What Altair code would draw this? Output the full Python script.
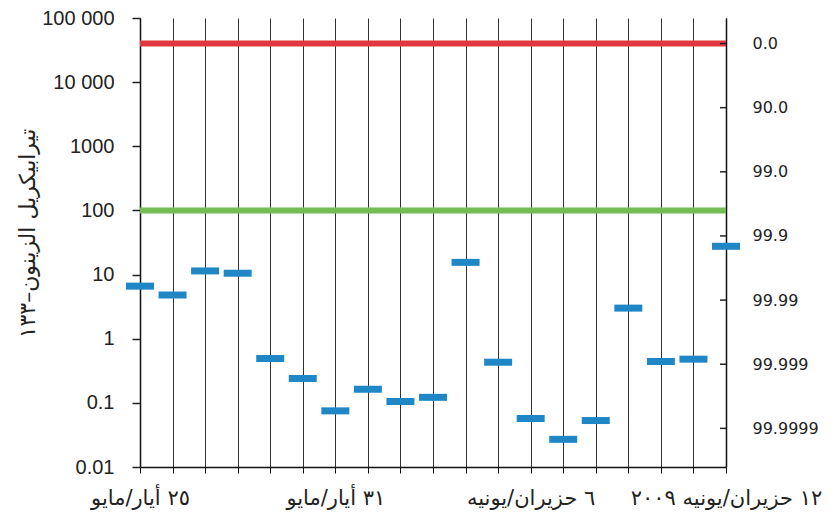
import altair as alt
import pandas as pd

# ---- data ----
day_index = list(range(19))
xe133_values = [6.6, 4.8, 11.4, 10.5, 0.49, 0.24, 0.075, 0.163, 0.105, 0.122,
                15.5, 0.43, 0.057, 0.027, 0.053, 3.0, 0.44, 0.48, 27.6]

x_label_pos = [0, 6, 12, 18]
x_label_text = ["٢٥ أيار/مايو", "٣١ أيار/مايو", "٦ حزيران/يونيه", "١٢ حزيران/يونيه ٢٠٠٩"]

y_tick_values = [0.01, 0.1, 1, 10, 100, 1000, 10000, 100000]
y_tick_text = ["0.01", "0.1", "1", "10", "100", "1000", "10 000", "100 000"]

ref_levels = [40000, 100]
ref_colors = ["#E1383F", "#74BC55"]

right_tick_values = [40000, 4000, 400, 40, 4, 0.4, 0.04]
right_tick_text = ["0.0", "90.0", "99.0", "99.9", "99.99", "99.999", "99.9999"]

y_title = "تيرابيكريل الزينون–١٣٣"

# ---- helpers ----
def label_expr(values, texts, rel=False):
    expr = "''"
    for v, t in reversed(list(zip(values, texts))):
        if rel:
            cond = f"abs(datum.value - {v}) < {v * 1e-6}"
        else:
            cond = f"datum.value == {v}"
        expr = f"{cond} ? '{t}' : ({expr})"
    return expr

bars_df = pd.DataFrame({"day": day_index, "value": xe133_values})
refs_df = pd.DataFrame({"level": ref_levels, "color": ref_colors})
right_df = pd.DataFrame({"level": right_tick_values, "day": [18] * len(right_tick_values)})

x_scale = alt.Scale(domain=[0, 18], nice=False, zero=False)
y_scale = alt.Scale(type="log", domain=[0.01, 100000], nice=False)

x_axis = alt.Axis(
    values=day_index, title=None, grid=True, gridColor="#333333", gridWidth=1,
    ticks=True, tickSize=6, tickColor="#111111", tickWidth=1,
    domain=True, domainColor="#111111", domainWidth=1.5,
    labelExpr=label_expr(x_label_pos, x_label_text),
    labelOverlap=False, labelFlush=False, labelLimit=400,
    labelFont="DejaVu Sans", labelFontSize=21, labelColor="#222222",
    labelPadding=14,
)

left_axis = alt.Axis(
    values=y_tick_values, grid=False, orient="left",
    labelExpr=label_expr(y_tick_values, y_tick_text, rel=True),
    labelFont="Liberation Sans", labelFontSize=20, labelColor="#222222",
    labelPadding=18, labelOverlap=False, labelFlush=False,
    ticks=True, tickSize=8, tickColor="#222222", tickWidth=1.5,
    domain=True, domainColor="#111111", domainWidth=1.5,
    title=y_title, titleFont="DejaVu Sans", titleFontSize=22,
    titleFontWeight="normal", titleColor="#222222", titleLimit=400,
    titleAngle=270, titleAlign="center", titleBaseline="middle",
    titleX=-113, titleY=215,
)

right_axis = alt.Axis(
    values=right_tick_values, grid=False, orient="right",
    labelExpr=label_expr(right_tick_values, right_tick_text, rel=True),
    labelFont="DejaVu Sans", labelFontSize=16, labelColor="#222222",
    labelPadding=26, labelOverlap=False, labelFlush=False,
    ticks=False, domain=True, domainColor="#111111", domainWidth=1.5,
    title=None,
)

rules = alt.Chart(refs_df).mark_rule(strokeWidth=6).encode(
    y=alt.Y("level:Q", scale=y_scale, axis=left_axis),
    color=alt.Color("color:N", scale=None),
)

bars = alt.Chart(bars_df).mark_tick(
    orient="horizontal", size=28, thickness=7, color="#1F87C6", opacity=1
).encode(
    x=alt.X("day:Q", scale=x_scale, axis=x_axis),
    y=alt.Y("value:Q", scale=y_scale, axis=None),
)

right_ticks = alt.Chart(right_df).mark_tick(
    orient="horizontal", size=6, thickness=1.5, color="#222222", xOffset=-3, opacity=1
).encode(
    x=alt.X("day:Q", scale=x_scale, axis=x_axis),
    y=alt.Y("level:Q", scale=y_scale, axis=right_axis),
)

chart = alt.layer(rules, bars, right_ticks).resolve_scale(y="independent").properties(
    width=586, height=449,
    autosize=alt.AutoSizeParams(type="none"),
    padding={"left": 132, "top": 10, "right": 106, "bottom": 46},
).configure_view(stroke=None)

chart.save("out.html", embed_options={"renderer": "svg", "actions": False})
